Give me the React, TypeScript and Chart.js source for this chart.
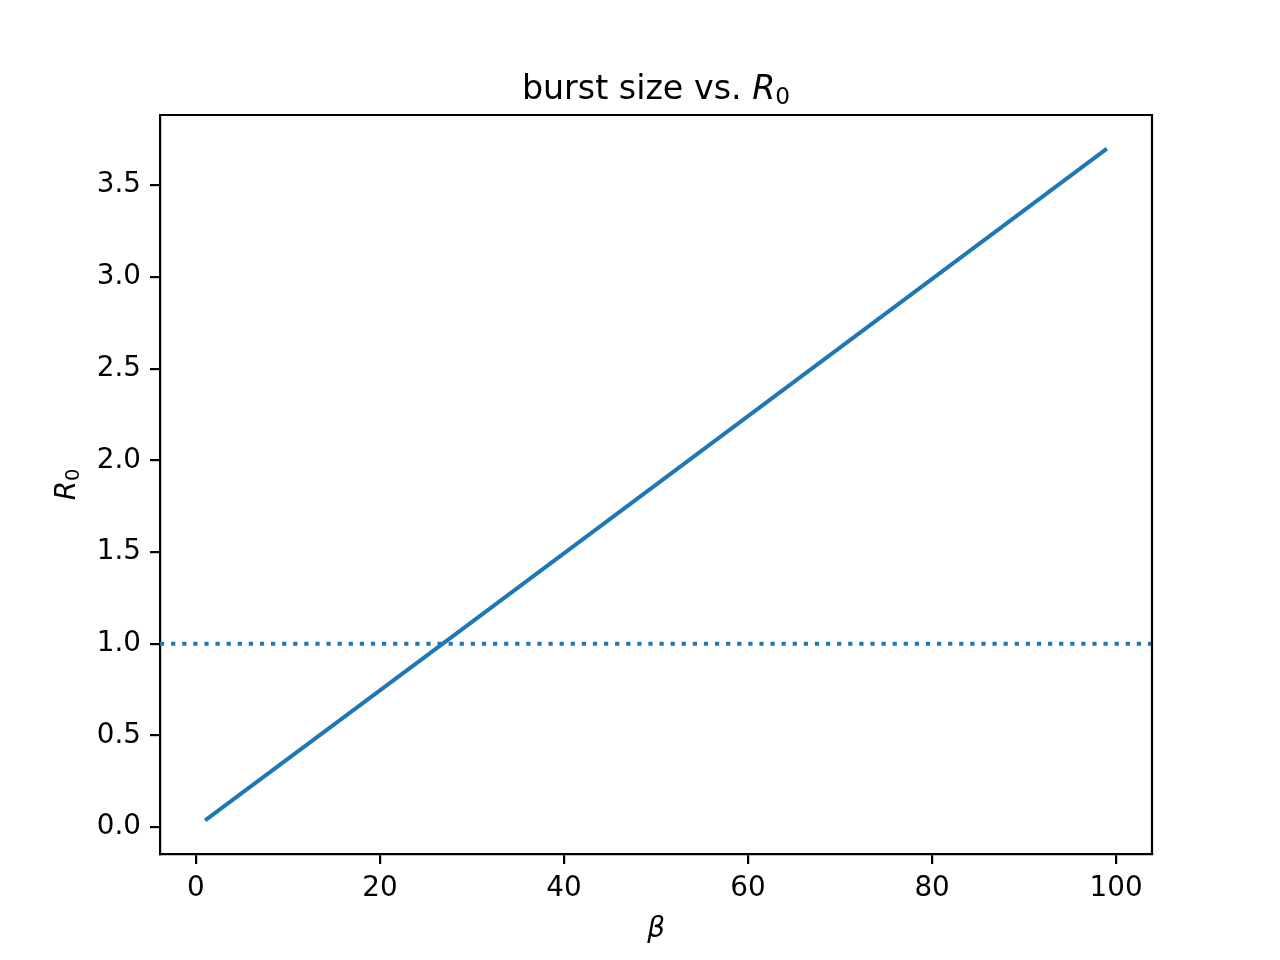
import React, { useEffect, useRef } from "react";
import { Chart, registerables } from "chart.js";

Chart.register(...registerables);

// Data
const betaValues = [1, 26.8, 99];
const r0Values = [0.037, 1.0, 3.7];
const thresholdValue = 1.0;
const xLimits = [-3.9, 103.9];
const yLimits = [-0.146, 3.883];
const xTicks = [0, 20, 40, 60, 80, 100];
const yTicks = [0, 0.5, 1.0, 1.5, 2.0, 2.5, 3.0, 3.5];

const FONT = "'DejaVu Sans', sans-serif";
const BLUE = "#1f77b4";
const TICK_PX = 27.8;

function drawMath(
  ctx: CanvasRenderingContext2D,
  parts: { text: string; italic?: boolean; sub?: boolean }[],
  size: number,
  cx: number,
  baseline: number
) {
  const fontFor = (p: { italic?: boolean; sub?: boolean }) =>
    `${p.italic ? "italic " : ""}${p.sub ? size * 0.7 : size}px ${FONT}`;
  let total = 0;
  const widths = parts.map((p) => {
    ctx.font = fontFor(p);
    const w = ctx.measureText(p.text).width;
    total += w;
    return w;
  });
  let x = cx - total / 2;
  ctx.textAlign = "left";
  ctx.textBaseline = "alphabetic";
  parts.forEach((p, i) => {
    ctx.font = fontFor(p);
    ctx.fillText(p.text, x, baseline + (p.sub ? size * 0.16 : 0));
    x += widths[i];
  });
}

const decorPlugin = {
  id: "decor",
  afterDraw(chart: any) {
    const { ctx, chartArea } = chart;
    ctx.save();
    ctx.strokeStyle = "#000";
    ctx.lineWidth = 2.2;
    ctx.beginPath();
    ctx.moveTo(chartArea.left, chartArea.top);
    ctx.lineTo(chartArea.right, chartArea.top);
    ctx.lineTo(chartArea.right, chartArea.bottom);
    ctx.stroke();
    ctx.fillStyle = "#000";
    const cx = (chartArea.left + chartArea.right) / 2;
    drawMath(
      ctx,
      [{ text: "burst size vs. " }, { text: "R", italic: true }, { text: "0", sub: true }],
      33.3,
      cx,
      99
    );
    drawMath(ctx, [{ text: "β", italic: true }], TICK_PX, cx, 937);
    ctx.save();
    ctx.translate(75, (chartArea.top + chartArea.bottom) / 2);
    ctx.rotate(-Math.PI / 2);
    drawMath(ctx, [{ text: "R", italic: true }, { text: "0", sub: true }], TICK_PX, 0, 0);
    ctx.restore();
    ctx.restore();
  },
};

export default function App() {
  const ref = useRef<HTMLCanvasElement>(null);
  useEffect(() => {
    if (!ref.current) return;
    const lineData = betaValues.map((b, i) => ({ x: b, y: r0Values[i] }));
    const thresholdData = xLimits.map((x) => ({ x, y: thresholdValue }));
    const tickFont = { family: FONT, size: TICK_PX };
    const chart = new Chart(ref.current, {
      type: "scatter",
      data: {
        datasets: [
          {
            data: lineData,
            showLine: true,
            borderColor: BLUE,
            borderWidth: 4,
            pointRadius: 0,
            fill: false,
          },
          {
            data: thresholdData,
            showLine: true,
            borderColor: BLUE,
            borderWidth: 4,
            borderDash: [4.2, 6.9],
            borderCapStyle: "butt",
            pointRadius: 0,
            fill: false,
          },
        ],
      },
      options: {
        animation: false,
        responsive: false,
        maintainAspectRatio: false,
        devicePixelRatio: 1,
        layout: { padding: { left: 0, right: 128, top: 115, bottom: 0 } },
        plugins: {
          legend: { display: false },
          tooltip: { enabled: false },
          title: { display: false },
        },
        scales: {
          x: {
            type: "linear",
            min: xLimits[0],
            max: xLimits[1],
            afterBuildTicks: (s: any) => {
              s.ticks = xTicks.map((v) => ({ value: v }));
            },
            afterFit: (s: any) => {
              s.height = 106;
            },
            ticks: {
              font: tickFont,
              color: "#000",
              padding: 8,
              maxRotation: 0,
              autoSkip: false,
              callback: (v: any) => String(v),
            },
            grid: {
              display: true,
              drawOnChartArea: false,
              drawTicks: true,
              tickLength: 10,
              color: "#000",
              lineWidth: 2.2,
            },
            border: { display: true, color: "#000", width: 2.2 },
          },
          y: {
            type: "linear",
            min: yLimits[0],
            max: yLimits[1],
            afterBuildTicks: (s: any) => {
              s.ticks = yTicks.map((v) => ({ value: v }));
            },
            afterFit: (s: any) => {
              s.width = 160;
            },
            ticks: {
              font: tickFont,
              color: "#000",
              padding: 9,
              autoSkip: false,
              callback: (v: any) => Number(v).toFixed(1),
            },
            grid: {
              display: true,
              drawOnChartArea: false,
              drawTicks: true,
              tickLength: 10,
              color: "#000",
              lineWidth: 2.2,
            },
            border: { display: true, color: "#000", width: 2.2 },
          },
        },
      } as any,
      plugins: [decorPlugin],
    });
    return () => chart.destroy();
  }, []);
  return (
    <div style={{ position: "fixed", left: 0, top: 0, width: 1280, height: 960, background: "#fff" }}>
      <canvas ref={ref} width={1280} height={960} style={{ width: 1280, height: 960 }} />
    </div>
  );
}
